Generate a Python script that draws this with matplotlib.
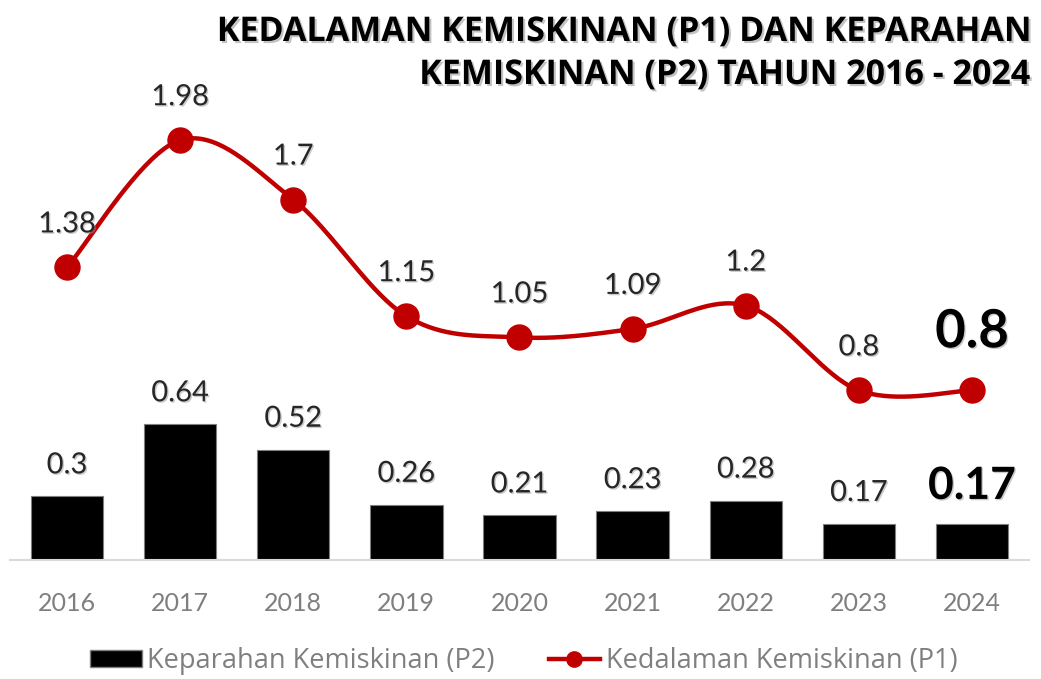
import numpy as np
import matplotlib.pyplot as plt
from matplotlib import patheffects as pe
from matplotlib.patches import Patch
from matplotlib.lines import Line2D

plt.rcParams['font.family'] = ['Lato', 'DejaVu Sans']

# data
years = ['2016', '2017', '2018', '2019', '2020', '2021', '2022', '2023', '2024']
p1_values = [1.38, 1.98, 1.7, 1.15, 1.05, 1.09, 1.2, 0.8, 0.8]   # Kedalaman (P1)
p2_values = [0.3, 0.64, 0.52, 0.26, 0.21, 0.23, 0.28, 0.17, 0.17]  # Keparahan (P2)
title_lines = ['KEDALAMAN KEMISKINAN (P1) DAN KEPARAHAN',
               'KEMISKINAN (P2) TAHUN 2016 - 2024']
legend_labels = ['Keparahan Kemiskinan (P2)', 'Kedalaman Kemiskinan (P1)']

RED = '#C00000'


# smoothed line like excel (bezier through points, catmull-rom style)
def smooth_line(x, y, n=40):
    x = np.asarray(x, float)
    y = np.asarray(y, float)
    px = np.concatenate([[x[0]], x, [x[-1]]])
    py = np.concatenate([[y[0]], y, [y[-1]]])
    out_x, out_y = [], []
    t = np.linspace(0, 1, n)
    for i in range(1, len(px) - 2):
        p0 = np.array([px[i], py[i]])
        p3 = np.array([px[i + 1], py[i + 1]])
        c1 = p0 + (np.array([px[i + 1], py[i + 1]]) - np.array([px[i - 1], py[i - 1]])) / 6
        c2 = p3 - (np.array([px[i + 2], py[i + 2]]) - np.array([px[i], py[i]])) / 6
        b = ((1 - t) ** 3)[:, None] * p0 + (3 * (1 - t) ** 2 * t)[:, None] * c1 \
            + (3 * (1 - t) * t ** 2)[:, None] * c2 + (t ** 3)[:, None] * p3
        out_x.extend(b[:, 0])
        out_y.extend(b[:, 1])
    return np.array(out_x), np.array(out_y)


fig = plt.figure(figsize=(10.41, 6.79), dpi=100)
ax = fig.add_axes([0.01, 0.1753, 0.978, 0.7806])
ax.patch.set_alpha(0)

x = np.arange(len(years))
ax.bar(x, p2_values, width=0.64, color='black', edgecolor='#7f7f7f', linewidth=0.8, zorder=2)
sx, sy = smooth_line(x, p1_values)
ax.plot(sx, sy, color=RED, lw=3.2, zorder=3, solid_capstyle='round')
ax.plot(x, p1_values, 'o', color=RED, ms=18, zorder=4)

shadow = [pe.SimplePatchShadow(offset=(1, -1), shadow_rgbFace='#999999', alpha=0.5), pe.Normal()]
last = len(years) - 1
for i in x:
    if i == last:
        ax.annotate(str(p1_values[i]), (i, p1_values[i]), xytext=(0, 43), textcoords='offset pixels',
                    ha='center', va='baseline', fontsize=38, fontweight='bold', color='black',
                    path_effects=shadow)
        ax.annotate(str(p2_values[i]), (i, p2_values[i]), xytext=(0, 25), textcoords='offset pixels',
                    ha='center', va='baseline', fontsize=32, fontweight='bold', color='black',
                    path_effects=shadow)
    else:
        ax.annotate(str(p1_values[i]), (i, p1_values[i]), xytext=(0, 35), textcoords='offset pixels',
                    ha='center', va='baseline', fontsize=21, color='#262626', path_effects=shadow)
        ax.annotate(str(p2_values[i]), (i, p2_values[i]), xytext=(0, 23), textcoords='offset pixels',
                    ha='center', va='baseline', fontsize=21, color='#262626', path_effects=shadow)

ax.set_xlim(-0.5, 8.5)
ax.set_ylim(0, 2.5)
ax.set_yticks([])
for s in ['top', 'right', 'left']:
    ax.spines[s].set_visible(False)
ax.spines['bottom'].set_color('#d9d9d9')
ax.spines['bottom'].set_linewidth(1.5)
ax.set_xticks(x, years)
ax.tick_params(axis='x', length=0, pad=23, labelsize=18, labelcolor='#7f7f7f')

# title top right
title_shadow = [pe.SimplePatchShadow(offset=(1.5, -1.5), shadow_rgbFace='#888888', alpha=0.5), pe.Normal()]
fig.text(0.989, 1 - 41 / 679, title_lines[0], ha='right', va='baseline', fontsize=24.5,
         fontweight='bold', family=['Open Sans', 'DejaVu Sans'], color='black', path_effects=title_shadow)
fig.text(0.989, 1 - 84 / 679, title_lines[1], ha='right', va='baseline', fontsize=24.5,
         fontweight='bold', family=['Open Sans', 'DejaVu Sans'], color='black', path_effects=title_shadow)

handles = [Patch(facecolor='black', edgecolor='#7f7f7f'),
           Line2D([], [], color=RED, lw=3.2, marker='o', ms=11)]
fig.legend(handles, legend_labels, loc='center', bbox_to_anchor=(0.503, 1 - 661 / 679), ncol=2,
           frameon=False, prop={'family': ['Open Sans', 'DejaVu Sans'], 'size': 19.5},
           labelcolor='#7f7f7f', handlelength=1.9, handleheight=0.55, handletextpad=0.2,
           columnspacing=2.0)

fig.savefig('out.png', dpi=100)
